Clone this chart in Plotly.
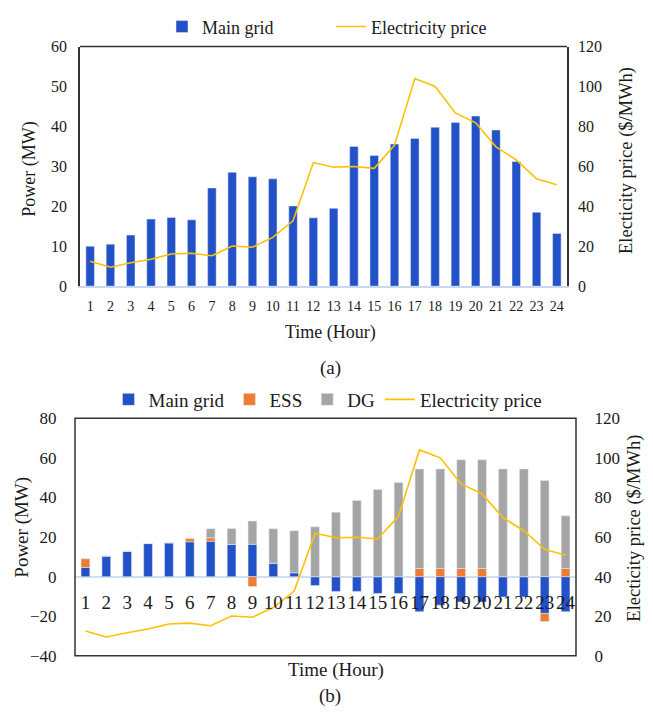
import plotly.graph_objects as go

hours = ["1","2","3","4","5","6","7","8","9","10","11","12","13","14","15","16","17","18","19","20","21","22","23","24"]

price = [12.5, 9.5, 11.7, 13.5, 16.1, 16.5, 15.2, 20.1, 19.5, 24.4, 32.7, 61.9,
         59.6, 59.9, 59.0, 70.6, 104.0, 100.0, 86.8, 81.8, 69.8, 63.2, 53.8, 50.8]

grid_a = [10.0, 10.5, 12.8, 16.8, 17.2, 16.6, 24.6, 28.5, 27.4, 26.9, 20.1, 17.1,
          19.5, 35.0, 32.7, 35.6, 37.0, 39.8, 41.0, 42.6, 39.1, 31.2, 18.5, 13.2]

grid_b = [4.6, 10.4, 12.8, 16.7, 17.1, 17.6, 17.9, 16.3, 16.3, 6.8, 2.0, -4.5,
          -7.5, -7.5, -8.5, -8.5, -17.7, -14.4, -12.8, -12.8, -10.3, -10.3, -18.6, -17.7]
ess_b = [4.5, 0, 0, 0, 0, 1.8, 1.7, 0, -5.0, 0, 0, 0,
         0, 0, 0, 0, 4.1, 4.1, 4.1, 4.1, 0, 0, -4.1, 4.1]
dg_b = [0, 0, 0, 0, 0, 0, 4.6, 8.0, 11.8, 17.4, 21.2, 25.2,
        32.5, 38.5, 44.0, 47.6, 50.3, 50.3, 54.9, 54.9, 54.4, 54.4, 48.6, 26.6]

BLUE = "#2352C8"
ORANGE = "#ED7D31"
GRAY = "#A5A5A5"
YELLOW = "#FFC000"
FONT = "'Liberation Serif', 'Times New Roman', 'DejaVu Serif', serif"
TXT = "#1a1a1a"

fig = go.Figure()

# (a)
fig.add_trace(go.Bar(x=hours, y=grid_a, name="Main grid", marker_color=BLUE,
                     xaxis="x", yaxis="y", legend="legend"))
fig.add_trace(go.Scatter(x=hours, y=price, name="Electricity price", mode="lines",
                         line=dict(color=YELLOW, width=1.6), xaxis="x", yaxis="y2",
                         legend="legend"))

# (b)
fig.add_trace(go.Bar(x=hours, y=grid_b, name="Main grid", marker_color=BLUE,
                     xaxis="x2", yaxis="y3", legend="legend2"))
fig.add_trace(go.Bar(x=hours, y=ess_b, name="ESS", marker_color=ORANGE,
                     xaxis="x2", yaxis="y3", legend="legend2"))
fig.add_trace(go.Bar(x=hours, y=dg_b, name="DG", marker_color=GRAY,
                     xaxis="x2", yaxis="y3", legend="legend2"))
fig.add_trace(go.Scatter(x=hours, y=price, name="Electricity price", mode="lines",
                         line=dict(color=YELLOW, width=1.6), xaxis="x2", yaxis="y4",
                         legend="legend2"))

# page has an 8px body margin: figure is offset by (8, 8) in the window
OFF = 8
W, H = 653 - OFF, 713 - OFF
def fx(px):
    return (px - OFF) / W
def fy(py):
    return (H - (py - OFF)) / H

tick_common = dict(showgrid=False, zeroline=False, ticks="outside",
                   tickcolor="rgba(0,0,0,0)", automargin=False)

def ann(text, x, y, size, angle=0):
    return dict(text=text, x=fx(x), y=fy(y), xref="paper", yref="paper",
                xanchor="center", yanchor="middle", textangle=angle,
                showarrow=False, font=dict(size=size))

fig.update_layout(
    width=W, height=H,
    margin=dict(l=0, r=0, t=0, b=0),
    paper_bgcolor="white", plot_bgcolor="white",
    font=dict(family=FONT, color=TXT, size=15),
    barmode="relative", bargap=0.58,
    xaxis=dict(domain=[fx(80), fx(567)], anchor="y", type="category",
               range=[-0.5, 23.5], tickmode="array", tickvals=hours, ticktext=hours,
               tickangle=0, showline=True, linecolor="#C9D8EF", linewidth=1.5,
               tickfont=dict(size=14), ticklen=6, **tick_common),
    yaxis=dict(domain=[fy(280), fy(37)], anchor="x", range=[0, 60], dtick=10,
               showline=True, linecolor="#333", linewidth=1.5,
               tickfont=dict(size=16), ticklen=8, **tick_common),
    yaxis2=dict(overlaying="y", side="right", anchor="x", range=[0, 120], dtick=20,
                showline=True, linecolor="#333", linewidth=1.5,
                tickfont=dict(size=16), ticklen=6, **tick_common),
    xaxis2=dict(domain=[fx(75), fx(576)], anchor="free", position=fy(574.6),
                type="category", range=[-0.5, 23.5], showline=False,
                tickmode="array", tickvals=hours, ticktext=hours, tickangle=0,
                tickfont=dict(size=19), ticklen=9, **tick_common),
    yaxis3=dict(domain=[fy(655), fy(414)], anchor="x2", range=[-40, 80], dtick=20,
                showline=False, showgrid=False, zeroline=True,
                zerolinecolor="#D0DDF2", zerolinewidth=1.5,
                ticks="outside", tickcolor="rgba(0,0,0,0)", ticklen=14,
                automargin=False, tickfont=dict(size=17)),
    yaxis4=dict(overlaying="y3", side="right", anchor="x2", range=[0, 120], dtick=20,
                showline=False, tickfont=dict(size=17), ticklen=14, **tick_common),
    legend=dict(orientation="h", x=fx(331), xanchor="center", y=fy(17),
                yanchor="middle", font=dict(size=18), bgcolor="rgba(0,0,0,0)",
                itemwidth=30, tracegroupgap=0, entrywidth=124,
                entrywidthmode="pixels"),
    legend2=dict(orientation="h", x=fx(328), xanchor="center", y=fy(395),
                 yanchor="middle", font=dict(size=19), bgcolor="rgba(0,0,0,0)",
                 itemwidth=30, tracegroupgap=0),
    shapes=[
        dict(type="line", xref="x domain", yref="y domain", x0=0, x1=1, y0=1, y1=1,
             line=dict(color="#333", width=1.5)),
        dict(type="rect", xref="x2 domain", yref="y3 domain", x0=0, x1=1, y0=0, y1=1,
             line=dict(color="#333", width=1.5)),
    ],
    annotations=[
        ann("Power (MW)", 30, 162, 18, -90),
        ann("Electicity price ($/MWh)", 627, 153, 18.5, -90),
        ann("Time (Hour)", 330, 327, 18),
        ann("(a)", 330, 363, 19),
        ann("Power (MW)", 22, 525, 19, -90),
        ann("Electicity price ($/MWh)", 635, 526, 18.5, -90),
        ann("Time (Hour)", 336, 669, 19),
        ann("(b)", 330, 696, 19),
    ],
)

fig.write_html("out.html")
